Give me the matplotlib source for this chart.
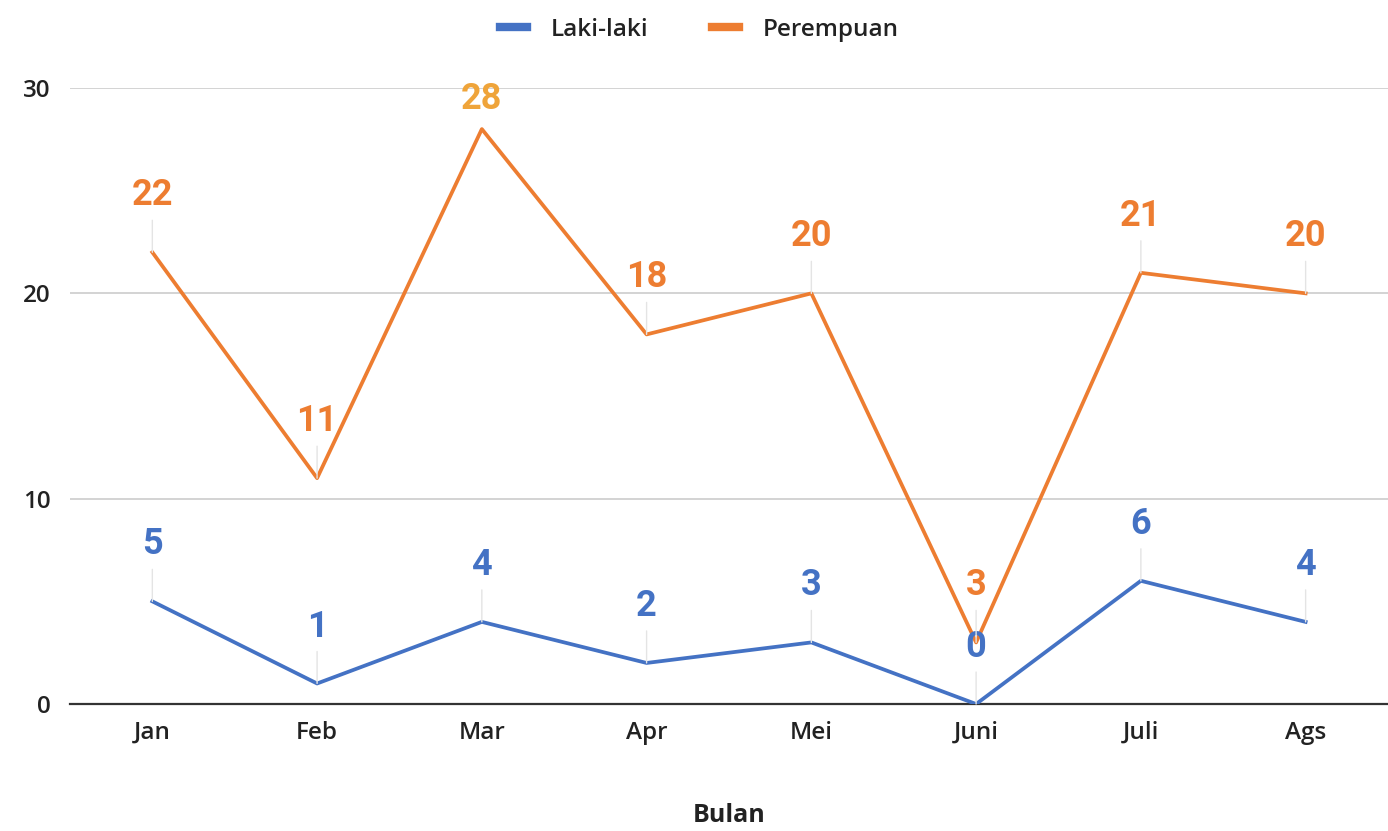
import matplotlib
matplotlib.use('Agg')
from matplotlib import pyplot as plt
import numpy as np

bulan = ['Jan', 'Feb', 'Mar', 'Apr', 'Mei', 'Juni', 'Juli', 'Ags']
laki = [5, 1, 4, 2, 3, 0, 6, 4]
perempuan = [22, 11, 28, 18, 20, 3, 21, 20]

blue = '#4472c4'
orange = '#ed7d31'
gold = '#efa43a'

plt.rcParams['font.family'] = ['Open Sans', 'DejaVu Sans']
plt.rcParams['font.weight'] = 'semibold'

fig = plt.figure(figsize=(13.88, 8.31), dpi=100)
ax = fig.add_axes([0.0504, 0.1528, 0.9496, 0.7413])

x = np.arange(len(bulan))
ax.plot(x, laki, color=blue, lw=2.7, label='Laki-laki', zorder=3)
ax.plot(x, perempuan, color=orange, lw=2.7, label='Perempuan', zorder=3)


def label_points(vals, col, top_col=None):
    for xi, v in zip(x, vals):
        c = col
        arrow = dict(arrowstyle='-', color='#e4e4e4', lw=1, shrinkA=3, shrinkB=0)
        off = 41
        if v >= 26:
            off = 22
            arrow = None
        if top_col is not None and v == max(vals):
            c = top_col
        ax.annotate(str(v), (xi, v), xytext=(0, off), textcoords='offset points',
                    ha='center', va='center', fontsize=26, fontweight='bold',
                    family='Roboto', color=c, zorder=4, arrowprops=arrow)


label_points(laki, blue)
label_points(perempuan, orange, gold)

ax.set_xlim(-0.5, 7.5)
ax.set_ylim(0, 30)
ax.set_yticks([0, 10, 20, 30])
ax.set_xticks(x)
ax.set_xticklabels(bulan)
ax.grid(axis='y', color='#cccccc', lw=1.2)
ax.set_axisbelow(True)
for s in ['top', 'right', 'left']:
    ax.spines[s].set_visible(False)
ax.spines['bottom'].set_color('#333333')
ax.spines['bottom'].set_linewidth(1.6)
ax.spines['bottom'].set_zorder(2)
ax.tick_params(length=0, labelsize=17.5, colors='#222222')
ax.tick_params(axis='x', pad=12)
ax.tick_params(axis='y', pad=14)
ax.set_xlabel('Bulan', fontsize=18, fontweight='bold', labelpad=42, color='#222222')

fig.legend(loc='center', bbox_to_anchor=(0.504, 0.964), ncol=2, frameon=False,
           fontsize=17.5, handlelength=1.1, handletextpad=1.0, columnspacing=2.6,
           labelcolor='#222222')
for line in fig.legends[0].get_lines():
    line.set_linewidth(6)

fig.savefig('out.png', dpi=100)
